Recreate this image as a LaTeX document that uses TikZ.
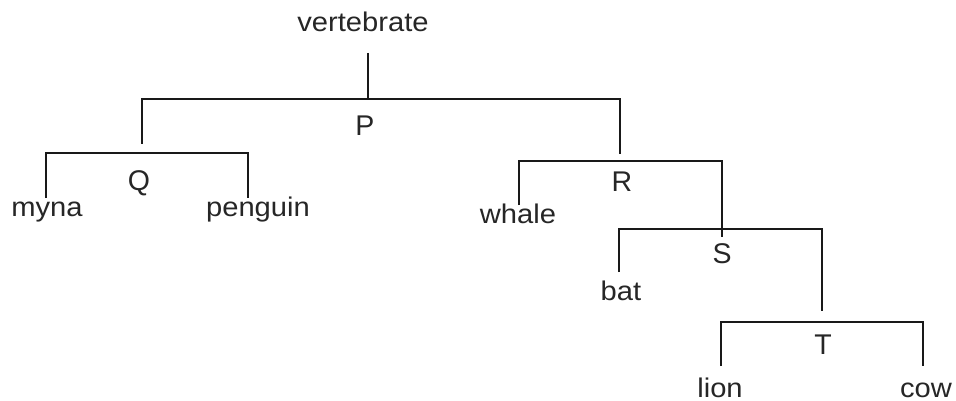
\documentclass[tikz,border=0pt]{standalone}
\usepackage{fontspec}
\setmainfont{Liberation Sans}
\newfontfamily\taxonfont[FakeStretch=1.08]{Liberation Sans}
\begin{document}
\begin{tikzpicture}[x=1pt,y=-1pt,
  branch/.style={line width=2.9pt,line cap=butt,line join=miter,color=black!90},
  word/.style={inner sep=0pt,anchor=base,font=\taxonfont\fontsize{27}{30}\selectfont,text=black!85},
  clade/.style={inner sep=0pt,anchor=base,font=\fontsize{28.5}{32}\selectfont,text=black!85}]
\useasboundingbox (0,0) rectangle (956,401);

% labels
\node[word] (vert) at (363,32) {vertebrate};
\node[clade] (P) at (365,136) {P};
\node[clade] (Q) at (139,190) {Q};
\node[clade] (R) at (622,192) {R};
\node[clade] (S) at (722,263) {S};
\node[clade] (T) at (823,354) {T};
\node[word] (myna) at (47,216) {myna};
\node[word] (penguin) at (258,216) {penguin};
\node[word] (whale) at (518,223) {whale};
\node[word] (bat) at (621,300) {bat};
\node[word] (lion) at (720,397) {lion};
\node[word] (cow) at (926,397) {cow};

% branch points
\coordinate (root) at (368,53);
\coordinate (pm) at (368,99);
\coordinate (pl) at (142,99);
\coordinate (pr) at (620,99);
\coordinate (pld) at (142,144);
\coordinate (prd) at (620,154);

\coordinate (ql) at (46,153);
\coordinate (qr) at (248,153);
\coordinate (qld) at (46,198);
\coordinate (qrd) at (248,198);

\coordinate (rl) at (519,161);
\coordinate (rr) at (722,161);
\coordinate (rld) at (519,205);
\coordinate (rrd) at (722,237);

\coordinate (sl) at (619,229);
\coordinate (sr) at (822,229);
\coordinate (sld) at (619,272);
\coordinate (srd) at (822,311);

\coordinate (tl) at (721,322);
\coordinate (tr) at (923,322);
\coordinate (tld) at (721,366);
\coordinate (trd) at (923,366);

% tree
\draw[branch] (root) -- (pm);
\draw[branch] (pld) -- (pl) -- (pr) -- (prd);
\draw[branch] (qld) -- (ql) -- (qr) -- (qrd);
\draw[branch] (rld) -- (rl) -- (rr) -- (rrd);
\draw[branch] (sld) -- (sl) -- (sr) -- (srd);
\draw[branch] (tld) -- (tl) -- (tr) -- (trd);
\end{tikzpicture}
\end{document}
